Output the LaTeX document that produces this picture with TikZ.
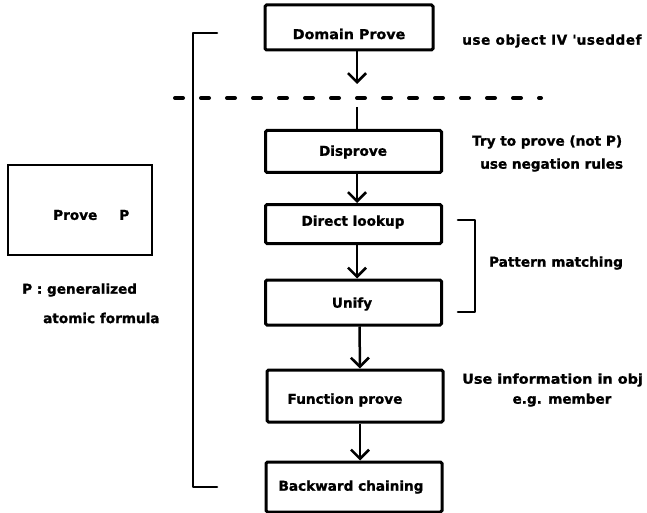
\documentclass[tikz,border=0pt]{standalone}
\usepackage{fontspec}
\setmainfont{DejaVu Sans}[BoldFeatures={FakeBold=1.2}]
\usetikzlibrary{arrows.meta}
\begin{document}
\begin{tikzpicture}[x=1pt,y=-1pt,
  lbl/.style={font=\bfseries\fontsize{13.6}{16}\selectfont,inner sep=0pt},
  stepbox/.style={draw,line width=3pt,rounded corners=1.5pt,minimum width=176,minimum height=42},
  flow/.style={line width=2.5pt,-{Straight Barb[length=9pt,width=18pt,line width=2.6pt]}},
  link/.style={line width=2.5pt},
  brace/.style={line width=2.6pt,line cap=round,line join=round}]
\useasboundingbox (0,0) rectangle (647,513);

% main flow of proof procedures
\node[stepbox,minimum width=168,minimum height=45] (dom) at (349,27.5) {};
\node[lbl] (domt) at (349,34) {\scalebox{1.05}[1]{Domain Prove}};
\node[stepbox] (dis) at (353.5,151.5) {};
\node[lbl] (dist) at (353,152) {Disprove};
\node[stepbox,minimum height=39] (dir) at (353.5,224) {};
\node[lbl] (dirt) at (353,222) {Direct lookup};
\node[stepbox,minimum height=45] (uni) at (353.5,302.5) {};
\node[lbl] (unit) at (352,304) {Unify};
\node[stepbox,minimum height=52] (fun) at (355,396) {};
\node[lbl] (funt) at (345,400) {Function prove};
\node[stepbox,minimum height=50] (bac) at (354,487) {};
\node[lbl] (bact) at (351,487) {Backward chaining};

% connectors
\coordinate (cut1) at (357,84);
\coordinate (cut2) at (357,107);
\draw[flow] ([xshift=8]dom.south) -- (cut1);
\draw[link] (cut2) -- (cut2 |- dis.north);
\draw[flow] ([xshift=3.5]dis.south) -- ([xshift=3.5]dir.north);
\draw[flow] ([xshift=3.5]dir.south) -- ([xshift=3.5]uni.north);
\draw[flow] ([xshift=6]uni.south) -- ([xshift=5]fun.north);
\draw[flow] ([xshift=5]fun.south) -- ([xshift=6]bac.north);

% dashed separator
\coordinate (dl) at (175,98);
\coordinate (dr) at (541,98);
\draw[line width=4pt,dash pattern=on 8pt off 18pt,line cap=round] (dl) -- (dr);

% left bracket
\coordinate (lb1) at (217,33);
\coordinate (lb2) at (217,487);
\draw[brace] (lb1) -- (193,33) -- (193,487) -- (lb2);

% pattern matching bracket
\coordinate (pb1) at (458,220);
\coordinate (pb2) at (458,312);
\draw[brace] (pb1) -- (475,220) -- (475,312) -- (pb2);
\node[lbl] (pat) at (556,263) {Pattern matching};

% side notes
\node[lbl,anchor=west] (n1) at (462,41) {\addfontfeature{LetterSpace=4}use object IV \textquotesingle useddef};
\node[lbl,anchor=west] (n2) at (472,142) {Try to prove (not P)};
\node[lbl,anchor=west] (n3) at (480,165) {use negation rules};
\node[lbl,anchor=west] (n4) at (462,380) {\scalebox{1.06}[1]{Use information in obj}};
\node[lbl] (n5) at (562,400) {e.g. member};

% left panel
\node[draw,line width=2.6pt,minimum width=144,minimum height=90] (pp) at (80,210) {};
\node[lbl,anchor=west] (ppt) at (53,215) {Prove\hspace{22pt}P};
\node[lbl,anchor=west] (pdef1) at (22,290) {P : generalized};
\node[lbl,anchor=west] (pdef2) at (43,318) {atomic formula};
\end{tikzpicture}
\end{document}
